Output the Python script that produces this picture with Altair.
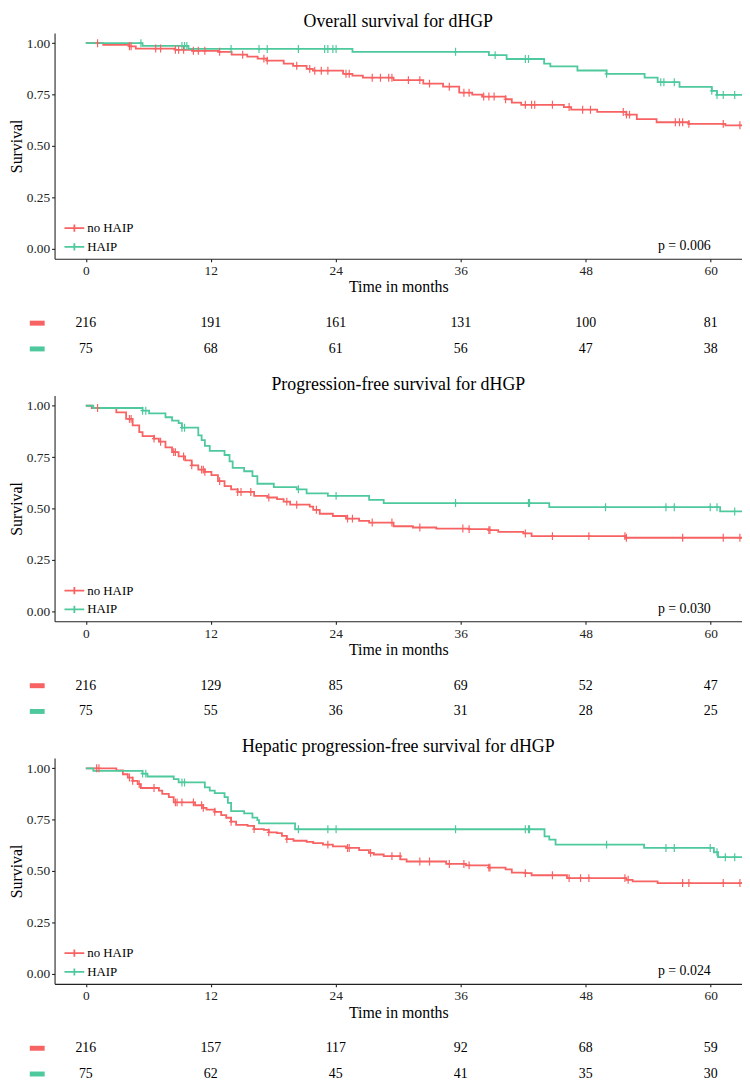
import altair as alt
import pandas as pd

FONT = "Liberation Serif"
RED, GREEN = "#F76262", "#4EC99D"
GROUPS = ["no HAIP", "HAIP"]
X_TICKS = [0, 12, 24, 36, 48, 60]
Y_TICKS = [0, 0.25, 0.5, 0.75, 1.0]
X_END = 63

# ---------------- Panel 1: Overall survival ----------------
os_title = "Overall survival for dHGP"
os_red_t = [0, 1.67, 4.19, 4.8, 8.6, 10.2, 12.7, 14.0, 15.5, 16.5, 17.4, 19.0, 19.9, 21.2, 21.8,
            24.7, 25.6, 26.6, 29.55, 32.4, 34.3, 35.85, 37.1, 38.05, 40.3, 40.9, 41.8, 45.9,
            46.6, 49.1, 51.9, 52.9, 54.8, 57.9, 61.4]
os_red_s = [1.0, 0.992, 0.985, 0.974, 0.968, 0.963, 0.958, 0.944, 0.935, 0.925, 0.915, 0.90, 0.89,
            0.875, 0.866, 0.851, 0.842, 0.832, 0.82, 0.803, 0.788, 0.759, 0.75, 0.74, 0.727, 0.711,
            0.70, 0.689, 0.676, 0.665, 0.652, 0.63, 0.615, 0.607, 0.60]
os_green_t = [0, 5.45, 9.86, 25.6, 38.7, 40.4, 44.0, 44.6, 47.2, 50.0, 53.65, 54.9, 57.0, 60.1, 60.6]
os_green_s = [1.0, 0.987, 0.972, 0.958, 0.942, 0.923, 0.90, 0.887, 0.867, 0.851, 0.832, 0.81,
              0.787, 0.768, 0.748]
os_red_cens = [1.13, 4.19, 4.35, 6.71, 7.18, 8.6, 8.91, 9.39, 10.33, 10.8, 11.43, 12.85, 15.06,
               17.1, 17.42, 20.25, 21.5, 21.98, 22.61, 23.24, 24.98, 25.29, 27.5, 28.29, 29.08,
               29.39, 30.97, 32.07, 33.0, 34.9, 36.3, 36.8, 38.2, 38.7, 39.2, 40.3, 42.2, 42.8,
               43.1, 44.8, 46.4, 47.7, 48.45, 51.6, 51.9, 52.2, 56.6, 57.0, 57.3, 57.9, 61.2, 62.8]
os_green_cens = [5.29, 9.23, 9.48, 9.7, 13.95, 16.63, 17.42, 20.41, 22.93, 23.24, 23.72, 24.03,
                 35.5, 39.3, 42.2, 42.5, 50.0, 55.2, 55.5, 56.5, 60.1, 60.6, 61.2, 62.3]
os_risk_red = [216, 191, 161, 131, 100, 81]
os_risk_green = [75, 68, 61, 56, 47, 38]
os_p = "0.006"

# ---------------- Panel 2: Progression-free survival ----------------
pfs_title = "Progression-free survival for dHGP"
pfs_red_t = [0, 0.57, 2.93, 3.87, 4.5, 5.13, 5.45, 6.55, 7.02, 7.65, 8.28, 8.91, 9.54, 10.17,
             10.8, 11.43, 12.06, 12.69, 13.32, 13.95, 14.58, 16.16, 17.42, 18.36, 18.99, 19.62,
             21.5, 21.83, 22.46, 23.72, 24.98, 26.24, 27.2, 29.55, 31.4, 33.65, 36.8, 38.7, 39.6,
             42.0, 42.8, 51.8]
pfs_red_s = [1.0, 0.989, 0.968, 0.936, 0.904, 0.872, 0.852, 0.84, 0.825, 0.797, 0.774, 0.753,
             0.734, 0.71, 0.689, 0.678, 0.662, 0.633, 0.609, 0.593, 0.58, 0.561, 0.553, 0.545,
             0.533, 0.518, 0.509, 0.493, 0.474, 0.463, 0.45, 0.439, 0.431, 0.413, 0.407, 0.402,
             0.399, 0.394, 0.386, 0.378, 0.365, 0.357]
pfs_green_t = [0, 0.72, 5.45, 6.08, 7.65, 8.28, 8.91, 9.23, 10.8, 11.12, 11.43, 11.9, 13.32, 13.8,
               14.1, 15.2, 16.0, 16.47, 18.05, 20.25, 21.2, 23.24, 27.2, 28.6, 44.5, 60.9]
pfs_green_s = [1.0, 0.989, 0.976, 0.963, 0.944, 0.928, 0.915, 0.893, 0.856, 0.833, 0.805, 0.78,
               0.76, 0.729, 0.697, 0.681, 0.657, 0.62, 0.604, 0.593, 0.573, 0.561, 0.541, 0.526,
               0.506, 0.485]
pfs_red_cens = [1.13, 4.19, 4.35, 6.55, 7.18, 8.44, 8.6, 9.39, 10.17, 11.12, 11.28, 11.43, 12.85,
                14.58, 14.9, 15.84, 17.57, 19.3, 20.25, 22.14, 25.13, 25.6, 27.5, 29.39, 32.07,
                36.2, 36.8, 38.7, 38.8, 42.2, 44.8, 48.3, 51.76, 51.9, 57.3, 61.2, 62.8]
pfs_green_cens = [5.45, 5.76, 9.23, 9.48, 20.41, 24.03, 35.5, 42.5, 42.6, 49.9, 55.7, 56.5, 59.95,
                  60.6, 62.3]
pfs_risk_red = [216, 129, 85, 69, 52, 47]
pfs_risk_green = [75, 55, 36, 31, 28, 25]
pfs_p = "0.030"

# ---------------- Panel 3: Hepatic progression-free survival ----------------
hpfs_title = "Hepatic progression-free survival for dHGP"
hpfs_red_t = [0, 2.93, 3.56, 4.03, 4.5, 4.98, 5.29, 7.02, 7.34, 7.97, 8.44, 10.49, 11.28, 11.59,
              12.38, 13.0, 13.48, 13.95, 14.43, 15.53, 16.16, 17.1, 17.57, 18.36, 18.83, 19.3,
              19.94, 21.2, 21.83, 22.77, 23.72, 24.98, 26.24, 27.18, 27.65, 28.6, 30.2, 30.8,
              34.6, 36.5, 38.7, 40.3, 40.9, 42.2, 42.8, 46.2, 51.9, 52.5, 54.9]
hpfs_red_s = [1.0, 0.99, 0.971, 0.955, 0.939, 0.923, 0.904, 0.891, 0.875, 0.859, 0.834, 0.82,
              0.807, 0.799, 0.788, 0.772, 0.759, 0.74, 0.724, 0.719, 0.704, 0.70, 0.688, 0.684,
              0.671, 0.655, 0.647, 0.642, 0.636, 0.628, 0.62, 0.612, 0.601, 0.588, 0.58, 0.572,
              0.556, 0.546, 0.534, 0.527, 0.516, 0.508, 0.492, 0.489, 0.479, 0.465, 0.457, 0.449,
              0.441]
hpfs_green_t = [0, 0.72, 5.45, 5.92, 8.44, 8.91, 11.43, 11.9, 12.38, 13.32, 13.64, 13.95, 15.2,
                16.0, 16.47, 16.63, 20.09, 44.04, 44.5, 45.1, 53.6, 60.3, 60.7]
hpfs_green_s = [1.0, 0.987, 0.974, 0.96, 0.947, 0.931, 0.907, 0.891, 0.879, 0.859, 0.831, 0.791,
                0.78, 0.76, 0.748, 0.732, 0.703, 0.668, 0.652, 0.628, 0.612, 0.591, 0.567]
hpfs_red_cens = [1.04, 1.26, 4.19, 4.5, 5.13, 6.55, 8.6, 8.76, 9.23, 10.33, 11.12, 11.28, 12.38,
                 13.95, 16.16, 17.57, 19.3, 23.24, 25.13, 25.29, 27.34, 29.39, 30.18, 32.07, 33.0,
                 34.9, 36.3, 36.8, 38.7, 38.8, 42.2, 44.8, 46.4, 47.5, 48.3, 51.76, 52.07, 57.3,
                 57.9, 61.2, 62.8]
hpfs_green_cens = [5.45, 5.76, 9.23, 9.48, 20.41, 23.24, 24.03, 35.5, 42.2, 42.5, 42.6, 50.0, 55.7,
                   56.5, 59.95, 60.6, 61.4, 62.3]
hpfs_risk_red = [216, 157, 117, 92, 68, 59]
hpfs_risk_green = [75, 62, 45, 41, 35, 30]
hpfs_p = "0.024"

W, H = 694, 228

xs = alt.Scale(domain=[-3, X_END], nice=False, zero=False)
ys = alt.Scale(domain=[-0.05, 1.05], nice=False, zero=False)
cs = alt.Scale(domain=GROUPS, range=[RED, GREEN])
x_axis = alt.Axis(values=X_TICKS, title="Time in months", grid=False)
y_axis = alt.Axis(values=Y_TICKS, format=".2f", title="Survival", grid=False)


def step_value(times, surv, t):
    v = surv[0]
    for ti, si in zip(times, surv):
        if ti <= t:
            v = si
    return v


def km_panel(title, rt, rs, gt, gs, rc, gc, risk_r, risk_g, pval):
    lines = []
    for g, tt, ss in ((GROUPS[0], rt, rs), (GROUPS[1], gt, gs)):
        for t, s in zip(tt + [X_END], ss + [ss[-1]]):
            lines.append({"time": t, "surv": s, "group": g})
    cens = []
    for g, cc, tt, ss in ((GROUPS[0], rc, rt, rs), (GROUPS[1], gc, gt, gs)):
        for c in cc:
            cens.append({"time": c, "surv": step_value(tt, ss, c), "group": g})

    leg = alt.Legend(title=None, orient="none", legendX=11, legendY=188,
                     symbolType="M-1.25,0H1.25M0,-0.45V0.45", symbolSize=256,
                     symbolStrokeWidth=1.8, labelFont=FONT, labelFontSize=13,
                     labelColor="black", padding=0, rowPadding=2, labelOffset=4)
    X = alt.X("time:Q", scale=xs, axis=x_axis)
    Y = alt.Y("surv:Q", scale=ys, axis=y_axis)
    C = alt.Color("group:N", scale=cs, legend=leg, sort=GROUPS)

    line = alt.Chart(pd.DataFrame(lines)).mark_line(
        interpolate="step-after", strokeWidth=1.8, clip=True
    ).encode(x=X, y=Y, color=C, detail="group:N")
    pts = alt.Chart(pd.DataFrame(cens)).mark_point(
        shape="M0,-1V1M-0.5,0H0.5", size=64, strokeWidth=1.2, filled=False,
        opacity=1, clip=True
    ).encode(x=X, y=Y, color=C)
    ptxt = alt.Chart(pd.DataFrame({"time": [60], "surv": [0.012], "label": [f"p = {pval}"]})).mark_text(
        align="right", baseline="middle", font=FONT, fontSize=14, color="black"
    ).encode(x=X, y=Y, text="label:N")

    km = alt.layer(line, pts, ptxt).properties(
        width=W, height=H,
        title=alt.TitleParams(title, anchor="middle", frame="group", font=FONT, fontSize=18,
                              fontWeight="normal", color="black", offset=2),
    )

    rows = []
    for g, vals in ((GROUPS[0], risk_r), (GROUPS[1], risk_g)):
        for t, n in zip(X_TICKS, vals):
            rows.append({"time": t, "group": g, "n": n})
    ysc = alt.Scale(domain=GROUPS, paddingInner=0, paddingOuter=0)
    txt = alt.Chart(pd.DataFrame(rows)).mark_text(
        font=FONT, fontSize=14, color="black", baseline="middle"
    ).encode(x=alt.X("time:Q", scale=xs, axis=None),
             y=alt.Y("group:N", scale=ysc, axis=None),
             text="n:Q")
    bars = alt.Chart(pd.DataFrame({"group": GROUPS})).mark_rule(strokeWidth=5).encode(
        x=alt.value(-25), x2=alt.value(-10),
        y=alt.Y("group:N", scale=ysc, axis=None),
        color=alt.Color("group:N", scale=cs, legend=None),
    )
    risk = alt.layer(bars, txt).properties(width=W, height=52)

    return alt.vconcat(km, risk, spacing=15).resolve_scale(
        color="independent", x="independent", y="independent"
    ).resolve_legend(color="independent")


p1 = km_panel(os_title, os_red_t, os_red_s, os_green_t, os_green_s, os_red_cens, os_green_cens,
              os_risk_red, os_risk_green, os_p)
p2 = km_panel(pfs_title, pfs_red_t, pfs_red_s, pfs_green_t, pfs_green_s, pfs_red_cens,
              pfs_green_cens, pfs_risk_red, pfs_risk_green, pfs_p)
p3 = km_panel(hpfs_title, hpfs_red_t, hpfs_red_s, hpfs_green_t, hpfs_green_s, hpfs_red_cens,
              hpfs_green_cens, hpfs_risk_red, hpfs_risk_green, hpfs_p)

chart = alt.vconcat(p1, p2, p3, spacing=14).resolve_scale(
    color="independent", x="independent", y="independent"
).resolve_legend(color="independent").properties(
    padding={"left": 0, "top": 0, "right": 0, "bottom": 0}
).configure_view(stroke=None).configure_axis(
    domainColor="#222", domainWidth=1.1, tickColor="#222", tickWidth=1.1, tickSize=3,
    labelFont=FONT, labelFontSize=13.5, labelColor="#222", labelPadding=2,
    titleFont=FONT, titleFontSize=16, titleFontWeight="normal", titleColor="black",
    titlePadding=2, grid=False
)

chart.save("out.html", embed_options={"renderer": "svg", "actions": False})
